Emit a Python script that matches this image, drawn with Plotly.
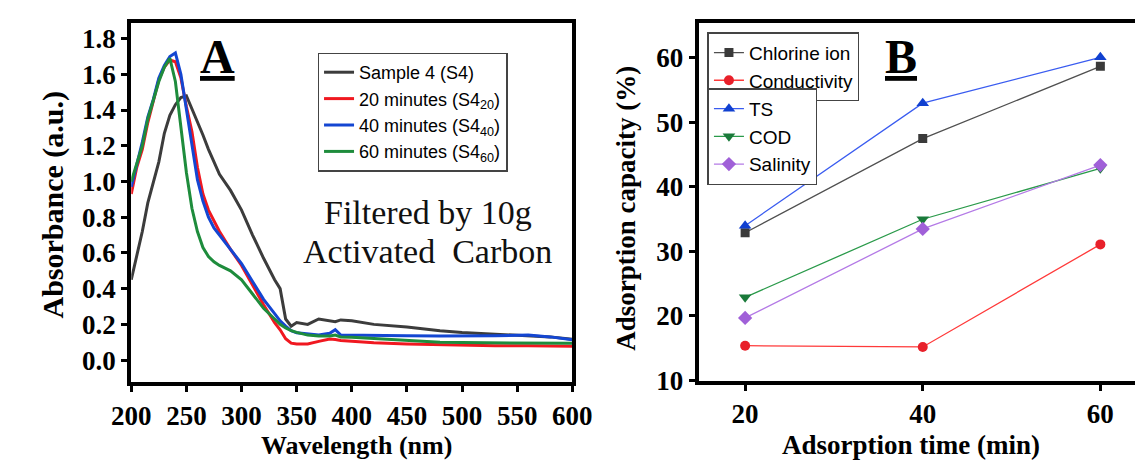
import plotly.graph_objects as go

W, H = 1147, 462

# ---------------- Panel A data ----------------
wavelength = [200, 205, 210, 215, 220, 225, 230, 235, 240, 245, 250, 255, 260, 265, 270, 275, 280,
              290, 300, 310, 320, 330, 335, 340, 345, 350, 360, 370, 380, 385, 390, 400, 420, 450,
              480, 500, 530, 560, 580, 600]
abs_s4 = [0.45, 0.58, 0.72, 0.88, 1.00, 1.11, 1.27, 1.37, 1.43, 1.47, 1.48, 1.41, 1.33, 1.26, 1.18, 1.11, 1.04,
          0.95, 0.84, 0.70, 0.57, 0.45, 0.40, 0.23, 0.19, 0.21, 0.20, 0.23, 0.22, 0.215, 0.225, 0.22, 0.20, 0.185,
          0.165, 0.155, 0.145, 0.135, 0.13, 0.117]
abs_20 = [0.93, 1.08, 1.18, 1.33, 1.45, 1.57, 1.64, 1.68, 1.67, 1.58, 1.42, 1.28, 1.08, 0.93, 0.84, 0.78, 0.72,
          0.62, 0.53, 0.42, 0.31, 0.21, 0.17, 0.12, 0.095, 0.09, 0.09, 0.105, 0.118, 0.115, 0.11, 0.105, 0.097, 0.09,
          0.085, 0.082, 0.08, 0.08, 0.079, 0.078]
abs_40 = [0.97, 1.09, 1.22, 1.36, 1.46, 1.58, 1.65, 1.70, 1.72, 1.60, 1.40, 1.20, 1.01, 0.89, 0.80, 0.74, 0.70,
          0.62, 0.54, 0.44, 0.34, 0.26, 0.22, 0.19, 0.165, 0.153, 0.145, 0.14, 0.15, 0.17, 0.14, 0.14, 0.14, 0.137,
          0.135, 0.135, 0.137, 0.14, 0.13, 0.114]
abs_60 = [1.00, 1.10, 1.20, 1.35, 1.46, 1.56, 1.64, 1.69, 1.56, 1.30, 1.05, 0.85, 0.72, 0.63, 0.58, 0.55, 0.53,
          0.50, 0.45, 0.37, 0.29, 0.23, 0.20, 0.18, 0.165, 0.155, 0.14, 0.135, 0.135, 0.14, 0.13, 0.128, 0.12, 0.108,
          0.10, 0.098, 0.096, 0.095, 0.094, 0.094]
spec_names = ["Sample 4 (S4)", "20 minutes (S4<sub>20</sub>)", "40 minutes (S4<sub>40</sub>)",
              "60 minutes (S4<sub>60</sub>)"]
spec_colors = ["#3c3c3c", "#f01820", "#1446d2", "#1e8c3c"]
x_ticks_a = [200, 250, 300, 350, 400, 450, 500, 550, 600]
y_ticks_a = [0.0, 0.2, 0.4, 0.6, 0.8, 1.0, 1.2, 1.4, 1.6, 1.8]

# ---------------- Panel B data ----------------
time_min = [20, 40, 60]
chlorine = [32.9, 47.5, 58.7]
conductivity = [15.4, 15.2, 31.1]
ts = [34.0, 53.0, 60.1]
cod = [22.9, 35.0, 42.9]
salinity = [19.7, 33.5, 43.4]
x_ticks_b = [20, 40, 60]
y_ticks_b = [10, 20, 30, 40, 50, 60]

fig = go.Figure()

for vals, name, col in zip([abs_s4, abs_20, abs_40, abs_60], spec_names, spec_colors):
    fig.add_trace(go.Scatter(x=wavelength, y=vals, mode="lines", name=name,
                             line=dict(color=col, width=3), xaxis="x", yaxis="y", legend="legend"))

b_series = [
    (chlorine, "Chlorine ion", "#505050", "#3a3a3a", "square", "legend2", 9),
    (conductivity, "Conductivity", "#ff3a3a", "#e8202a", "circle", "legend2", 10),
    (ts, "TS", "#3a5cf0", "#1040d0", "triangle-up", "legend3", 11),
    (cod, "COD", "#2a9a4a", "#1a7a3a", "triangle-down", "legend3", 11),
    (salinity, "Salinity", "#b47ae6", "#a060d8", "diamond", "legend3", 11),
]
for vals, name, lc, mc, sym, lg, ms in b_series:
    fig.add_trace(go.Scatter(x=time_min, y=vals, mode="lines+markers", name=name,
                             line=dict(color=lc, width=1.3),
                             marker=dict(color=mc, symbol=sym, size=ms),
                             xaxis="x2", yaxis="y2", legend=lg))

def px_x(p):
    return p / W

def px_y(p):
    return 1 - p / H

tickfont = dict(family="Liberation Serif", size=27, color="black", weight="bold")
common_tick = dict(tickprefix="<b>", ticksuffix="</b>", tickfont=tickfont,
                   showgrid=False, zeroline=False, tickcolor="black")

fig.update_layout(
    width=W, height=H,
    margin=dict(l=0, r=0, t=0, b=0),
    paper_bgcolor="white", plot_bgcolor="white",
    xaxis=dict(domain=[px_x(107), px_x(564)], range=[200, 600], anchor="y",
               tickvals=x_ticks_a, ticks="outside", ticklen=6, tickwidth=3,
               showline=True, linewidth=4, linecolor="black", mirror=True, **common_tick),
    yaxis=dict(domain=[px_y(387), px_y(15)], range=[-0.125, 1.89], anchor="x",
               tickvals=y_ticks_a, tickformat=".1f", ticks="outside", ticklen=6, tickwidth=3,
               showline=True, linewidth=4, linecolor="black", mirror=True, **common_tick),
    xaxis2=dict(domain=[px_x(695), 1.0], range=[14.78, 63.9], anchor="y2",
                tickvals=x_ticks_b, ticks="outside", ticklen=6, tickwidth=3,
                showline=True, linewidth=4, linecolor="black", mirror=True, **common_tick),
    xaxis3=dict(overlaying="x2", side="top", anchor="y2", range=[14.78, 63.9],
                tickvals=[20, 30, 40, 50, 60], ticks="inside", ticklen=6, tickwidth=1.5,
                tickcolor="#444", showticklabels=False, showline=False, showgrid=False, zeroline=False),
    yaxis2=dict(domain=[px_y(385), px_y(15)], range=[10, 65.5], anchor="x2",
                tickvals=y_ticks_b, ticks="outside", ticklen=6, tickwidth=3,
                showline=True, linewidth=4, linecolor="black", mirror=False, **common_tick),
    legend=dict(x=px_x(300), y=px_y(46), xanchor="left", yanchor="top",
                bgcolor="white", bordercolor="#444", borderwidth=1.5,
                font=dict(family="Liberation Sans", size=18, color="black"),
                tracegroupgap=0, itemwidth=30),
    legend2=dict(x=px_x(704), y=px_y(25), xanchor="left", yanchor="top",
                 bgcolor="white", bordercolor="#444", borderwidth=1.5,
                 font=dict(family="Liberation Sans", size=19, color="black"), itemwidth=30),
    legend3=dict(x=px_x(704), y=px_y(83), xanchor="left", yanchor="top",
                 bgcolor="white", bordercolor="#444", borderwidth=1.5,
                 font=dict(family="Liberation Sans", size=19, color="black"), itemwidth=30),
)

annos = [
    dict(text="<b>Wavelength (nm)</b>", x=px_x(340), y=px_y(452),
         font=dict(family="Liberation Serif", size=26, color="black")),
    dict(text="<b>Absorbance (a.u.)</b>", x=px_x(26), y=px_y(203), textangle=-90,
         font=dict(family="Liberation Serif", size=30, color="black")),
    dict(text="<b>Adsorption time (min)</b>", x=px_x(915), y=px_y(452),
         font=dict(family="Liberation Serif", size=27, color="black")),
    dict(text="<b>Adsorption capacity (%)</b>", x=px_x(620), y=px_y(207), textangle=-90,
         font=dict(family="Liberation Serif", size=27, color="black")),
    dict(text="<b><u>A</u></b>", x=px_x(196), y=px_y(50), font=dict(family="Liberation Serif", size=48, color="black")),
    dict(text="<b><u>B</u></b>", x=px_x(905), y=px_y(50), font=dict(family="Liberation Serif", size=48, color="black")),
    dict(text="Filtered by 10g", x=px_x(414), y=px_y(211), font=dict(family="Liberation Serif", size=34, color="#111")),
    dict(text="Activated  Carbon", x=px_x(414), y=px_y(252), font=dict(family="Liberation Serif", size=34, color="#111")),
]
for a in annos:
    fig.add_annotation(xref="paper", yref="paper", showarrow=False, xanchor="center", yanchor="middle", **a)

fig.write_html("out.html")
